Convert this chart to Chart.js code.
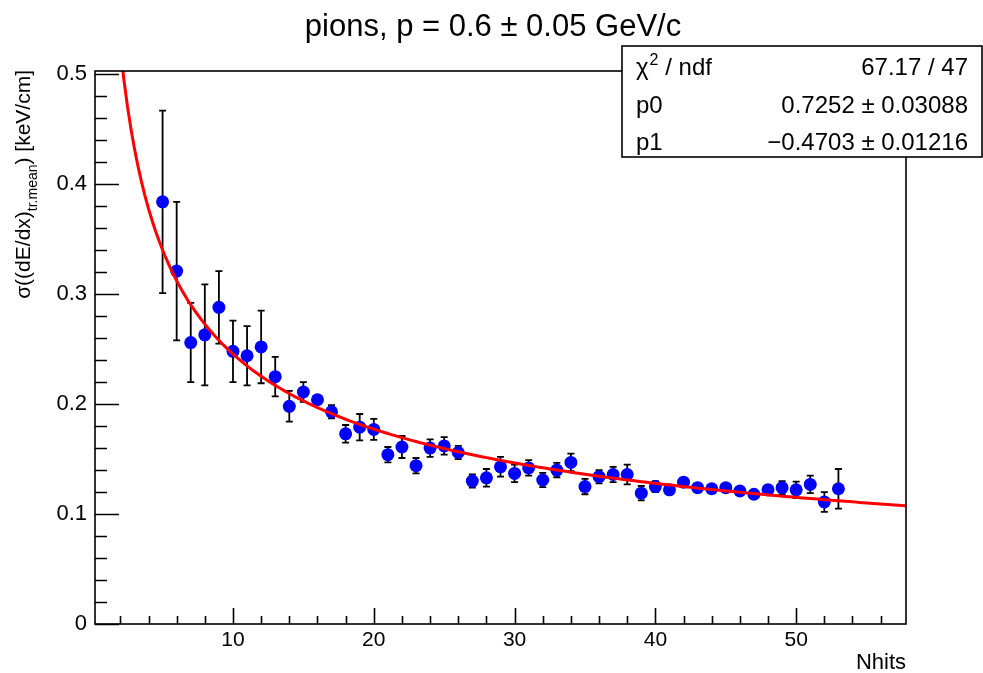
<!DOCTYPE html>
<html>
<head>
<meta charset="utf-8">
<script src="https://cdn.jsdelivr.net/npm/chart.js@4/dist/chart.umd.min.js"></script>
<style>
  html, body { margin: 0; padding: 0; background: #fff; }
  canvas { display: block; }
</style>
</head>
<body>
<canvas id="c" width="983" height="673"></canvas>
<script>
// data
const nhits = [5, 6, 7, 8, 9, 10, 11, 12, 13, 14, 15, 16, 17, 18, 19, 20, 21, 22, 23, 24, 25, 26, 27, 28, 29,
    30, 31, 32, 33, 34, 35, 36, 37, 38, 39, 40, 41, 42, 43, 44, 45, 46, 47, 48, 49, 50, 51, 52, 53];
const sigma = [0.384, 0.321, 0.256, 0.263, 0.288, 0.248, 0.244, 0.252, 0.225, 0.198, 0.211, 0.204, 0.193, 0.173,
    0.179, 0.177, 0.154, 0.161, 0.144, 0.160, 0.162, 0.156, 0.130, 0.133, 0.143,
    0.137, 0.142, 0.131, 0.140, 0.147, 0.125, 0.134, 0.136, 0.136, 0.119, 0.125, 0.122, 0.129, 0.124, 0.123,
    0.124, 0.121, 0.118, 0.122, 0.124, 0.122, 0.127, 0.111, 0.123];
const sigmaErr = [0.083, 0.063, 0.036, 0.046, 0.033, 0.028, 0.027, 0.033, 0.018, 0.014, 0.009, 0.004, 0.006, 0.008,
    0.012, 0.0095, 0.007, 0.010, 0.007, 0.008, 0.008, 0.006, 0.006, 0.008, 0.009,
    0.008, 0.007, 0.0065, 0.0065, 0.008, 0.007, 0.006, 0.007, 0.009, 0.0065, 0.005, 0.003, 0.003, 0.003, 0.003,
    0.003, 0.003, 0.003, 0.004, 0.006, 0.0075, 0.008, 0.009, 0.018];

// fit result shown in the stat box: f(x) = p0 * x^p1
const p0 = 0.7252;
const p1 = -0.4703;
const statRows = [
    ['chi2', '67.17 / 47'],
    ['p0', '0.7252 \u00b1 0.03088'],
    ['p1', '\u22120.4703 \u00b1 0.01216']
];

const xTicks = [10, 20, 30, 40, 50];
const yTicks = [0, 0.1, 0.2, 0.3, 0.4, 0.5];
const X_MIN = 0.2, X_MAX = 57.8;
const Y_MIN = 0, Y_MAX = 0.503;

const FONT = '"Liberation Sans", Arial, sans-serif';

const points = nhits.map((n, i) => ({ x: n, y: sigma[i] }));

// fit curve, sampled along x
const fitCurve = [];
for (let x = 1.5; x <= X_MAX; x += 0.25) {
    fitCurve.push({ x: x, y: p0 * Math.pow(x, p1) });
}

// error bars under the markers
const errorBars = {
    id: 'errorBars',
    beforeDatasetsDraw(chart) {
        const ctx = chart.ctx;
        const xs = chart.scales.x, ys = chart.scales.y;
        ctx.save();
        ctx.strokeStyle = '#000';
        ctx.lineWidth = 1.8;
        nhits.forEach((n, i) => {
            const px = xs.getPixelForValue(n);
            const top = ys.getPixelForValue(sigma[i] + sigmaErr[i]);
            const bot = ys.getPixelForValue(sigma[i] - sigmaErr[i]);
            ctx.beginPath();
            ctx.moveTo(px, top); ctx.lineTo(px, bot);
            ctx.moveTo(px - 3.5, top); ctx.lineTo(px + 3.5, top);
            ctx.moveTo(px - 3.5, bot); ctx.lineTo(px + 3.5, bot);
            ctx.stroke();
        });
        ctx.restore();
    }
};

// frame, ticks, labels, titles and stat box, ROOT style
const rootFrame = {
    id: 'rootFrame',
    afterDraw(chart) {
        const ctx = chart.ctx;
        const a = chart.chartArea;
        const xs = chart.scales.x, ys = chart.scales.y;
        ctx.save();
        ctx.strokeStyle = '#000';
        ctx.lineWidth = 1.6;
        ctx.strokeRect(a.left, a.top, a.right - a.left, a.bottom - a.top);

        // y ticks
        ctx.beginPath();
        for (let v = 0; v <= 0.5001; v += 0.02) {
            const py = Math.round(ys.getPixelForValue(v)) + 0.5;
            const major = Math.abs(v * 10 - Math.round(v * 10)) < 1e-6;
            ctx.moveTo(a.left, py);
            ctx.lineTo(a.left + (major ? 24 : 12), py);
        }
        // x ticks
        for (let v = 2; v <= X_MAX; v += 2) {
            const px = Math.round(xs.getPixelForValue(v)) + 0.5;
            const major = v % 10 === 0;
            ctx.moveTo(px, a.bottom);
            ctx.lineTo(px, a.bottom - (major ? 16 : 8));
        }
        ctx.stroke();

        ctx.fillStyle = '#000';
        ctx.font = '22px ' + FONT;
        ctx.textAlign = 'right';
        ctx.textBaseline = 'middle';
        yTicks.forEach(v => {
            ctx.fillText(v === 0 ? '0' : v.toFixed(1), a.left - 8, ys.getPixelForValue(v));
        });
        ctx.font = '21px ' + FONT;
        ctx.textAlign = 'center';
        ctx.textBaseline = 'top';
        xTicks.forEach(v => {
            ctx.fillText(String(v), xs.getPixelForValue(v), a.bottom + 6);
        });

        // axis titles
        ctx.font = '22px ' + FONT;
        ctx.textAlign = 'right';
        ctx.textBaseline = 'alphabetic';
        ctx.fillText('Nhits', a.right, 669);

        ctx.save();
        ctx.translate(30, 70);
        ctx.rotate(-Math.PI / 2);
        ctx.textAlign = 'left';
        const partA = '\u03c3((dE/dx)';
        const partSub = 'tr.mean';
        const partB = ') [keV/cm]';
        ctx.font = '21px ' + FONT;
        const wA = ctx.measureText(partA).width;
        const wB = ctx.measureText(partB).width;
        ctx.font = '14px ' + FONT;
        const wS = ctx.measureText(partSub).width;
        let x0 = -(wA + wS + wB);
        ctx.font = '21px ' + FONT;
        ctx.fillText(partA, x0, 0);
        ctx.font = '14px ' + FONT;
        ctx.fillText(partSub, x0 + wA, 7);
        ctx.font = '21px ' + FONT;
        ctx.fillText(partB, x0 + wA + wS, 0);
        ctx.restore();

        // title
        ctx.font = '31px ' + FONT;
        ctx.textAlign = 'center';
        ctx.textBaseline = 'alphabetic';
        ctx.fillText('pions, p = 0.6 \u00b1 0.05 GeV/c', 493, 36);

        // stat box
        const bx = 622, by = 46, bw = 360, bh = 111;
        ctx.fillStyle = '#fff';
        ctx.fillRect(bx, by, bw, bh);
        ctx.strokeRect(bx, by, bw, bh);
        ctx.fillStyle = '#000';
        ctx.font = '24px ' + FONT;
        const rowY = [75, 113, 150];
        statRows.forEach((r, i) => {
            ctx.textAlign = 'left';
            if (r[0] === 'chi2') {
                ctx.fillText('\u03c7', 636, rowY[i]);
                const wc = ctx.measureText('\u03c7').width;
                ctx.font = '16px ' + FONT;
                ctx.fillText('2', 636 + wc + 1, rowY[i] - 10);
                ctx.font = '24px ' + FONT;
                ctx.fillText(' / ndf', 636 + wc + 10, rowY[i]);
            } else {
                ctx.fillText(r[0], 636, rowY[i]);
            }
            ctx.textAlign = 'right';
            ctx.fillText(r[1], 968, rowY[i]);
        });
        ctx.restore();
    }
};

new Chart(document.getElementById('c'), {
    type: 'scatter',
    data: {
        datasets: [
            {
                type: 'line',
                data: fitCurve,
                borderColor: '#ff0000',
                borderWidth: 3,
                pointRadius: 0,
                fill: false,
                tension: 0
            },
            {
                data: points,
                backgroundColor: '#0000ff',
                borderColor: '#0000ff',
                pointRadius: 6.5,
                pointBorderWidth: 0
            }
        ]
    },
    options: {
        responsive: false,
        animation: false,
        layout: { padding: { left: 95, right: 77, top: 71, bottom: 49 } },
        plugins: { legend: { display: false }, tooltip: { enabled: false } },
        scales: {
            x: { type: 'linear', min: X_MIN, max: X_MAX, display: false },
            y: { type: 'linear', min: Y_MIN, max: Y_MAX, display: false }
        }
    },
    plugins: [errorBars, rootFrame]
});
</script>
</body>
</html>
